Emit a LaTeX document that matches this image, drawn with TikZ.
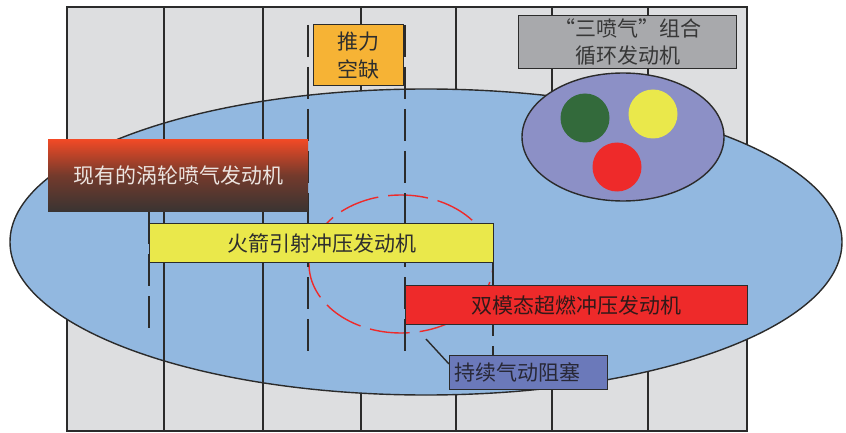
\documentclass[tikz,border=0pt]{standalone}
\usepackage{fontspec}
\setmainfont{Noto Sans CJK SC}
\usetikzlibrary{shapes.geometric}
\definecolor{gridgray}{HTML}{DDDEE0}
\definecolor{linec}{HTML}{2B2B2B}
\definecolor{bluec}{HTML}{92B8E0}
\definecolor{lavc}{HTML}{8C90C6}
\definecolor{greenc}{HTML}{336A3B}
\definecolor{yellowc}{HTML}{EAE84B}
\definecolor{redc}{HTML}{EE2A2A}
\definecolor{orangec}{HTML}{F6B335}
\definecolor{grayboxc}{HTML}{A8A9AC}
\definecolor{purplec}{HTML}{6B79BA}
\definecolor{turbotop}{HTML}{F24A26}
\definecolor{turbomid}{HTML}{743A2C}
\definecolor{turbobot}{HTML}{3A3432}
\definecolor{textdark}{HTML}{2E2E2E}
\tikzset{
  gline/.style={draw=linec, line width=1.4pt},
  dline/.style={draw=linec, line width=1.4pt, dash pattern=on 32pt off 10pt},
  boxc/.style={draw=linec, line width=1.4pt, anchor=north west, inner sep=0pt,
    font=\fontsize{21pt}{28pt}\selectfont, text=textdark, align=center},
}
\begin{document}
\begin{tikzpicture}[x=1pt,y=-1pt]
\useasboundingbox (0,0) rectangle (846,433);
% grid background
\draw[gline, fill=gridgray] (67,7) rectangle (747,431);
\foreach \xx in {164,263,361,456,552,648}{
  \draw[gline] (\xx,7) -- (\xx,431);
}
% big ellipse
\node[ellipse, draw=linec, line width=1.4pt, fill=bluec, inner sep=0pt,
  minimum width=832pt, minimum height=306pt] (field) at (426,242) {};
\foreach \xx in {164,263}{
  \draw[gline] (\xx,7) -- (\xx,431);
}
% red dashed ellipse
\node[ellipse, draw=redc, line width=1.4pt, dash pattern=on 40pt off 10pt,
  inner sep=0pt, minimum width=184pt, minimum height=138pt] (gap) at (401,264) {};
% dashed boundary lines
\coordinate (d1a) at (149,212); \coordinate (d1b) at (149,332);
\coordinate (d2a) at (308,25);  \coordinate (d2b) at (308,355);
\coordinate (d3a) at (405,25);  \coordinate (d3b) at (405,355);
\coordinate (d4a) at (493,262); \coordinate (d4b) at (493,355);
\draw[dline] (d1a) -- (d1b);
\draw[dline] (d2a) -- (d2b);
\draw[dline] (d3a) -- (d3b);
\draw[dline] (d4a) -- (d4b);
% boxes
\node[anchor=north west, inner sep=0pt, minimum width=260pt, minimum height=72pt,
  top color=turbotop, bottom color=turbobot, middle color=turbomid,
  font=\fontsize{21pt}{28pt}\selectfont, text={rgb,255:red,236;green,228;blue,224}]
  (turbo) at (48,139) {现有的涡轮喷气发动机};
\node[boxc, fill=yellowc, minimum width=344pt, minimum height=39pt]
  (rocket) at (149,223) {火箭引射冲压发动机};
\node[boxc, fill=redc, minimum width=342pt, minimum height=39pt, text={rgb,255:red,50;green,25;blue,25}]
  (scram) at (405,285) {双模态超燃冲压发动机};
\node[boxc, fill=purplec, text width=148pt, inner xsep=5pt, minimum height=34pt, align=left,
  text={rgb,255:red,40;green,40;blue,55}]
  (block) at (449,355) {持续气动阻塞};
\coordinate (tip) at (426,339);
\draw[gline] (tip) -- ([yshift=-9pt]block.north west);
\node[boxc, fill=orangec, minimum width=90pt, minimum height=61pt]
  (thrust) at (313,24) {推力\\空缺};
\node[boxc, fill=grayboxc, minimum width=218pt, minimum height=53pt,
  font=\fontsize{21pt}{27pt}\selectfont, text={rgb,255:red,55;green,55;blue,55}]
  (combo) at (518,15) {“三喷气”组合\\循环发动机};
% small ellipse and circles
\node[ellipse, draw=linec, line width=1.4pt, fill=lavc, inner sep=0pt,
  minimum width=202pt, minimum height=128pt] (trio) at (623,137) {};
\node[circle, fill=greenc, inner sep=0pt, minimum size=49pt] (cg) at (585,118) {};
\node[circle, fill=yellowc, inner sep=0pt, minimum size=49pt] (cy) at (653,114) {};
\node[circle, fill=redc, inner sep=0pt, minimum size=49pt] (cr) at (617,167) {};
\end{tikzpicture}
\end{document}
